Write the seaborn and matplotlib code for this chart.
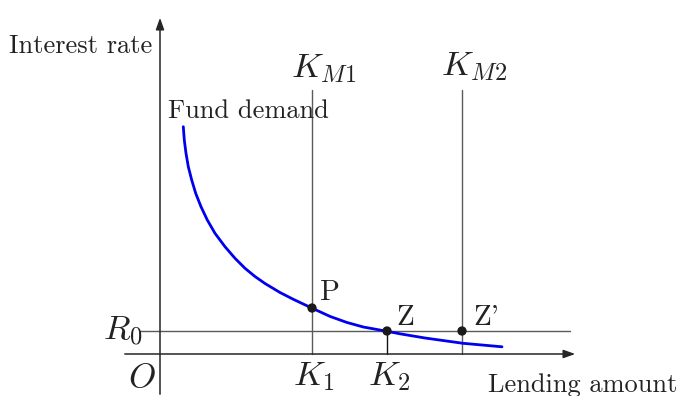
import matplotlib
matplotlib.use("Agg")
import matplotlib.pyplot as plt
import seaborn as sns
import pandas as pd

# diagram units: 1 unit = 10 px, origin at the axes crossing
curve_x = [2.33, 2.43, 2.6, 2.83, 3.17, 3.57, 4.1, 4.73, 5.5, 6.5, 7.5, 8.5, 9.5,
           10.5, 12.0, 13.33, 15.17, 17.0, 18.67, 20.33, 22.7, 24.0, 26.5, 30.3, 34.2]
curve_y = [22.73, 21.4, 20.07, 18.73, 17.4, 16.07, 14.73, 13.4, 12.07, 10.73, 9.57, 8.57, 7.75,
           7.05, 6.15, 5.47, 4.6, 3.76, 3.16, 2.7, 2.27, 2.02, 1.6, 1.07, 0.72]

k1, k2, km2 = 15.2, 22.7, 30.2
r0 = 2.3
k_top = 26.4

pts_name = ["P", "Z", "Z'"]
pts_x = [k1, k2, km2]
pts_y = [4.6, r0, r0]

sns.set_style("white")
plt.rcParams['font.family'] = ['cmr10', 'DejaVu Serif']
plt.rcParams['mathtext.fontset'] = 'cm'
fs = 19
mfs = 25

fig = plt.figure(figsize=(6.77, 3.96), dpi=100)
ax = fig.add_axes([0, 0, 1, 1])
ax.set_xlim(-16, 51.7)
ax.set_ylim(-4.2, 35.4)
ax.axis("off")

axis_col = "#262626"
grid_col = "#5a5a5a"

# axes with arrows
ax.annotate("", xy=(41.8, 0), xytext=(-3.8, 0),
            arrowprops=dict(arrowstyle="-|>,head_length=0.7,head_width=0.25", color=axis_col, lw=1.1))
ax.annotate("", xy=(0, 33.9), xytext=(0, -4.3),
            arrowprops=dict(arrowstyle="-|>,head_length=0.7,head_width=0.25", color=axis_col, lw=1.1))

# reference lines
ax.plot([-2.0, 41.0], [r0, r0], color=grid_col, lw=1.0)
ax.plot([k1, k1], [0, k_top], color=grid_col, lw=1.0)
ax.plot([km2, km2], [0, k_top], color=grid_col, lw=1.0)
ax.plot([k2, k2], [0, r0], color="#111111", lw=1.0)

df = pd.DataFrame({"x": curve_x, "y": curve_y})
sns.lineplot(data=df, x="x", y="y", ax=ax, color="#0000ee", lw=2.0, sort=False)

pts = pd.DataFrame({"x": pts_x, "y": pts_y, "name": pts_name})
sns.scatterplot(data=pts, x="x", y="y", ax=ax, color="#1a1a1a", s=45, edgecolor="none", zorder=5)

tc = "#222222"
ax.text(-0.8, 30.1, "Interest rate", ha="right", va="baseline", fontsize=fs, color=tc)
ax.text(0.8, 23.6, "Fund demand", ha="left", va="baseline", fontsize=fs, color=tc)
ax.text(13.1, 27.7, r"$K_{M1}$", ha="left", va="baseline", fontsize=mfs, color=tc)
ax.text(28.1, 27.9, r"$K_{M2}$", ha="left", va="baseline", fontsize=mfs, color=tc)
ax.text(16.0, 5.4, "P", ha="left", va="baseline", fontsize=21, color=tc)
ax.text(23.6, 2.9, "Z", ha="left", va="baseline", fontsize=21, color=tc)
ax.text(31.3, 2.9, "Z'", ha="left", va="baseline", fontsize=21, color=tc)
ax.text(-1.74, 1.4, r"$R_0$", ha="right", va="baseline", fontsize=mfs, color=tc)
ax.text(-0.4, -3.3, r"$O$", ha="right", va="baseline", fontsize=mfs, color=tc)
ax.text(13.3, -3.1, r"$K_1$", ha="left", va="baseline", fontsize=mfs, color=tc)
ax.text(20.8, -3.1, r"$K_2$", ha="left", va="baseline", fontsize=mfs, color=tc)
ax.text(32.8, -3.8, "Lending amount", ha="left", va="baseline", fontsize=fs, color=tc)

fig.savefig("out.png", dpi=100)
